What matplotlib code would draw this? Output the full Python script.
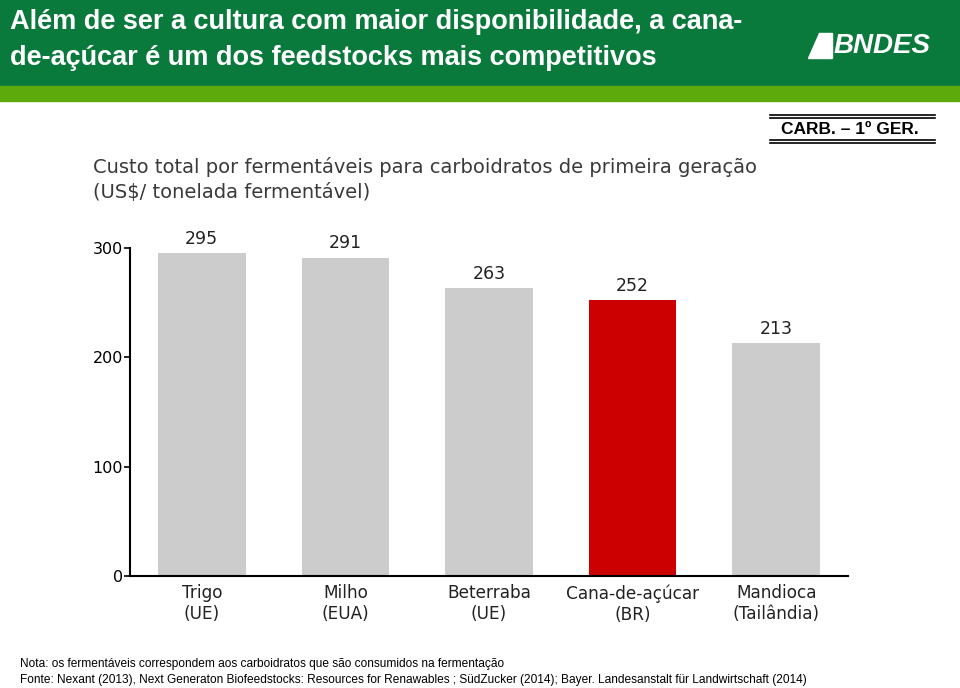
import matplotlib
matplotlib.use("Agg")
import matplotlib.pyplot as plt
from matplotlib.patches import Rectangle, Polygon
import numpy as np

# dados
categorias = ["Trigo\n(UE)", "Milho\n(EUA)", "Beterraba\n(UE)", "Cana-de-açúcar\n(BR)", "Mandioca\n(Tailândia)"]
valores = [295, 291, 263, 252, 213]
cores = ["#cccccc", "#cccccc", "#cccccc", "#cc0000", "#cccccc"]
yticks = [0, 100, 200, 300]

W, H = 960, 688
fig = plt.figure(figsize=(9.6, 6.88), dpi=100)

def px(x0, y0, x1, y1):
    # pixel box -> figure coords (y from top)
    return [x0 / W, 1 - y1 / H, (x1 - x0) / W, (y1 - y0) / H]

sans = ["Liberation Sans", "DejaVu Sans"]

# cabecalho verde
fig.patches.append(Rectangle((0, 1 - 86 / H), 1, 86 / H, transform=fig.transFigure,
                             color="#0a7a3c", zorder=0))
fig.patches.append(Rectangle((0, 1 - 101 / H), 1, 15 / H, transform=fig.transFigure,
                             color="#5caa0c", zorder=0))
fig.text(10 / W, 1 - 22 / H, "Além de ser a cultura com maior disponibilidade, a cana-",
         color="white", fontsize=19.5, fontweight="bold", family=sans, va="center")
fig.text(10 / W, 1 - 58 / H, "de-açúcar é um dos feedstocks mais competitivos",
         color="white", fontsize=19.5, fontweight="bold", family=sans, va="center")

# logo BNDES (simplificado)
fig.patches.append(Polygon([(808 / W, 1 - 58 / H), (832 / W, 1 - 58 / H), (832 / W, 1 - 33 / H),
                            (819 / W, 1 - 33 / H)], closed=True, transform=fig.transFigure,
                           color="white", zorder=2))
fig.text(834 / W, 1 - 46 / H, "BNDES", color="white", fontsize=20, fontweight="bold",
         style="italic", family=sans, va="center", ha="left")

# caixa CARB.
for yy in [115, 118, 140, 143]:
    fig.add_artist(plt.Line2D([770 / W, 935 / W], [1 - yy / H, 1 - yy / H], color="black", lw=1.2))
fig.text(850 / W, 1 - 129 / H, "CARB. – 1º GER.", fontsize=12.5, fontweight="bold",
         family=sans, ha="center", va="center")

# subtitulo
fig.text(93 / W, 1 - 167 / H, "Custo total por fermentáveis para carboidratos de primeira geração",
         fontsize=14, color="#3a3a3a", va="center")
fig.text(93 / W, 1 - 193 / H, "(US$/ tonelada fermentável)",
         fontsize=14, color="#3a3a3a", va="center")

# grafico
ax = fig.add_axes(px(130, 248, 848, 576))
x = np.arange(len(categorias))
bars = ax.bar(x, valores, width=0.61, color=cores)
for xi, v in zip(x, valores):
    ax.annotate(str(v), (xi, v), xytext=(0, 4), textcoords="offset points",
                ha="center", va="bottom", fontsize=12.5, color="#222222")

ax.set_xlim(-0.5, len(categorias) - 0.5)
ax.set_ylim(0, 300)
ax.set_yticks(yticks)
ax.set_yticklabels([str(t) for t in yticks], fontsize=11.5)
ax.set_xticks(x)
ax.set_xticklabels(categorias, fontsize=12.2, color="#222222", linespacing=1.2)
ax.tick_params(axis="x", length=0, pad=6)
ax.tick_params(axis="y", length=4, width=1.2, pad=1)
for s in ["top", "right"]:
    ax.spines[s].set_visible(False)
for s in ["left", "bottom"]:
    ax.spines[s].set_linewidth(1.5)

# notas
fig.text(20 / W, 1 - 664 / H, "Nota: os fermentáveis correspondem aos carboidratos que são consumidos na fermentação",
         fontsize=8.55, family=sans, va="center")
fig.text(20 / W, 1 - 680 / H,
         "Fonte: Nexant (2013), Next Generaton Biofeedstocks: Resources for Renawables ; SüdZucker (2014); Bayer. Landesanstalt für Landwirtschaft (2014)",
         fontsize=8.55, family=sans, va="center")

fig.savefig("out.png", dpi=100)
